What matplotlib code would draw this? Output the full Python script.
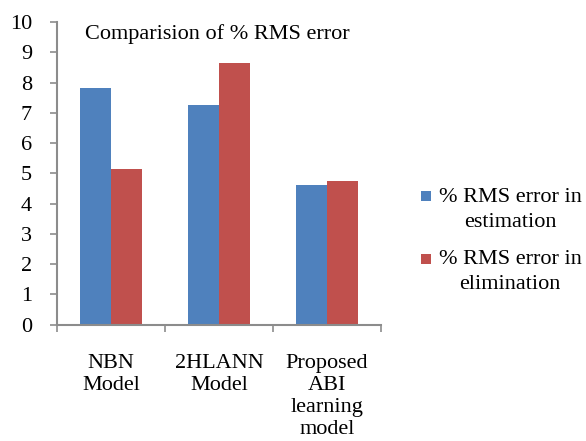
import numpy as np
import matplotlib.pyplot as plt
from matplotlib.patches import Rectangle
from matplotlib.legend_handler import HandlerPatch

categories = ['NBN\nModel', '2HLANN\nModel', 'Proposed\nABI\nlearning\nmodel']
estimation = [7.83, 7.25, 4.62]
elimination = [5.13, 8.64, 4.74]
series_names = ['% RMS error in\nestimation', '% RMS error in\nelimination']
yticks = list(range(0, 11))

plt.rcParams['font.family'] = ['Liberation Serif', 'DejaVu Serif']
FS = 16


class TopSquare(HandlerPatch):
    # square drawn at the top of a tall handle box, next to the first text line
    def create_artists(self, legend, orig_handle, xdescent, ydescent,
                       width, height, fontsize, trans):
        size = width
        color = orig_handle.patches[0].get_facecolor()
        p = Rectangle((-xdescent, -ydescent + height - size), size, size,
                      facecolor=color, edgecolor='none', transform=trans)
        return [p]


fig = plt.figure(figsize=(5.86, 4.41), dpi=100)
ax = fig.add_axes([0.0973, 0.2637, 0.5527, 0.6863])

x = np.arange(len(categories))
w = 0.287
b1 = ax.bar(x - w / 2, estimation, w, color='#4F81BD', label=series_names[0])
b2 = ax.bar(x + w / 2, elimination, w, color='#C0504D', label=series_names[1])

ax.set_xlim(-0.5, len(categories) - 0.5)
ax.set_ylim(0, 10)
ax.set_yticks(yticks)

# category boundary ticks, labels in the middle
ax.set_xticks(np.arange(-0.5, len(categories), 1.0))
ax.set_xticklabels([])
ax.set_xticks(x, minor=True)
ax.set_xticklabels(categories, minor=True, fontsize=FS, linespacing=1.21, va='top')
ax.tick_params(axis='x', which='minor', length=0, pad=21)
ax.tick_params(axis='x', which='major', length=5, color='#8c8c8c', width=1.2)
ax.tick_params(axis='y', length=5, color='#8c8c8c', width=1.2, labelsize=FS, pad=13)

for s in ['top', 'right']:
    ax.spines[s].set_visible(False)
for s in ['left', 'bottom']:
    ax.spines[s].set_color('#8c8c8c')
    ax.spines[s].set_linewidth(1.5)

ax.text(0.087, 0.992, 'Comparision of % RMS error', transform=ax.transAxes,
        fontsize=FS, va='top', ha='left')

leg = fig.legend(loc='upper left', bbox_to_anchor=(0.718, 0.574), frameon=False,
                 fontsize=FS, handlelength=0.45, handleheight=2.2, handletextpad=0.35,
                 labelspacing=0.8, borderpad=0, borderaxespad=0,
                 handler_map={b1: TopSquare(), b2: TopSquare()})
for t in leg.get_texts():
    t.set_multialignment('center')
    t.set_linespacing(1.45)

fig.savefig('out.png', dpi=100)
